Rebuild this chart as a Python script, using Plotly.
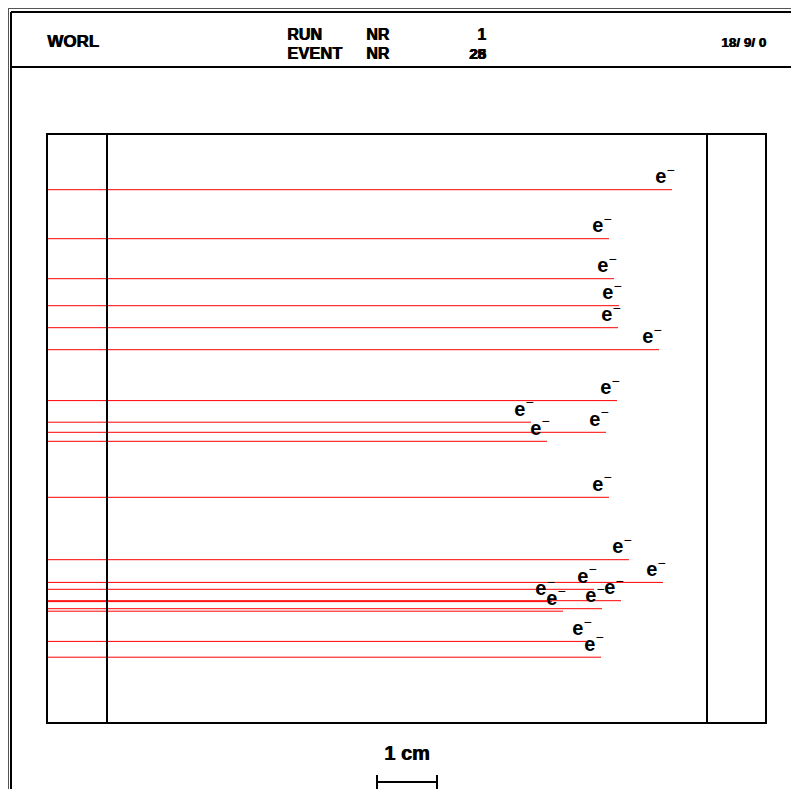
import plotly.graph_objects as go

track_y = [189.7, 238.7, 278.7, 305.7, 327.7, 349.7, 400.6, 422.2, 432.3, 441.3, 497.3,
           559.7, 582.4, 589.3, 600.7, 601.6, 608.7, 611.2, 641.4, 657.2]
track_end = [672, 609, 614, 619, 618, 659, 617, 531, 606, 547, 609,
             629, 663, 594, 621, 552, 602, 563, 589, 601]
track_label = ["<b>e</b><sup>−</sup>"] * len(track_y)

left_x = 47
label_dx = 7
label_dy = 11.5

W, H = 799, 789
ORIGIN = 8  # page margin that the browser leaves around the plot
BLACK = "#000000"
RED = "#ff0000"
FONT = "Liberation Sans"
SHADOW = "0.8px 0 0 #000000"

xs, ys = [], []
for y, e in zip(track_y, track_end):
    xs += [left_x, e, None]
    ys += [y, y, None]

fig = go.Figure()
fig.add_trace(go.Scatter(x=xs, y=ys, mode="lines", line=dict(color=RED, width=1),
                         hoverinfo="skip", showlegend=False))
fig.add_trace(go.Scatter(x=[e - label_dx for e in track_end],
                         y=[y - label_dy for y in track_y],
                         mode="text", text=track_label,
                         textposition="middle center",
                         textfont=dict(family=FONT, size=20, color=BLACK),
                         hoverinfo="skip", showlegend=False))

def seg(x0, y0, x1, y1, color=BLACK, width=2):
    return dict(type="line", xref="x", yref="y", x0=x0, y0=y0, x1=x1, y1=y1,
                line=dict(color=color, width=width))

shapes = [
    seg(8, 8.5, W, 8.5, "#555555", 1), seg(8.5, 8, 8.5, H, "#555555", 1),
    seg(11, 12, W, 12), seg(11, 12, 11, H), seg(11, 67, W, 67),
    dict(type="rect", xref="x", yref="y", x0=47, y0=134, x1=766, y1=723,
         line=dict(color=BLACK, width=2)),
    seg(107, 134, 107, 723), seg(707, 134, 707, 723),
    seg(377, 782, 437, 782), seg(377, 775, 377, H), seg(437, 775, 437, H),
]

def note(text, x, y, size=16, anchor="left"):
    return dict(text=f"<b>{text}</b>", x=x, y=y, xref="x", yref="y", showarrow=False,
                xanchor=anchor, yanchor="middle", borderpad=0,
                font=dict(family=FONT, size=size, color=BLACK, shadow=SHADOW))

annotations = [
    note("WORL", 45.5, 41, 17), note("RUN", 285.5, 34), note("EVENT", 285.5, 53, 16.5),
    note("NR", 365, 34), note("NR", 365, 53),
    note("1", 486.5, 34, anchor="right"),
    note("25", 487, 53, 15, "right"), note("28", 487, 53, 15, "right"),
    note("18/ 9/ 0", 767, 42, 13.5, "right"),
    note("1 cm", 406.5, 753, 20, "center"),
]

fig.update_layout(
    width=W - ORIGIN, height=H - ORIGIN, margin=dict(l=0, r=0, t=0, b=0),
    paper_bgcolor="white", plot_bgcolor="white",
    xaxis=dict(range=[ORIGIN, W], visible=False, fixedrange=True),
    yaxis=dict(range=[H, ORIGIN], visible=False, fixedrange=True),
    shapes=shapes, annotations=annotations, showlegend=False,
)
fig.write_html("out.html", config=dict(displayModeBar=False))
